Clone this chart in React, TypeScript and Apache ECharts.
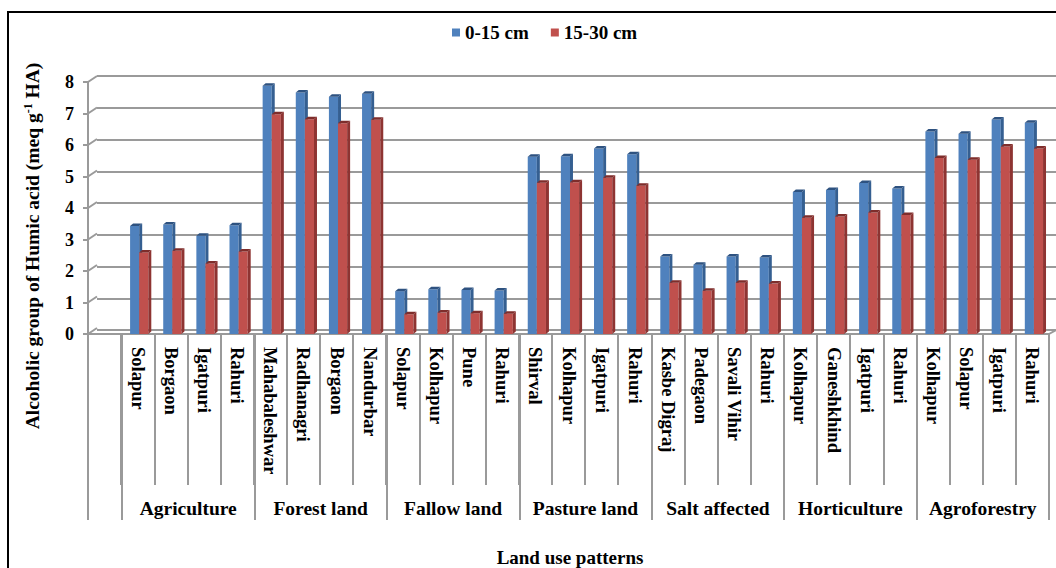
import React, { useEffect, useRef } from 'react';
import * as echarts from 'echarts';

const categories = ['', 'Solapur', 'Borgaon', 'Igatpuri', 'Rahuri', 'Mahabaleshwar', 'Radhanagri', 'Borgaon', 'Nandurbar', 'Solapur', 'Kolhapur', 'Pune', 'Rahuri', 'Shirval', 'Kolhapur', 'Igatpuri', 'Rahuri', 'Kasbe Digraj', 'Padegaon', 'Savali Vihir', 'Rahuri', 'Kolhapur', 'Ganeshkhind', 'Igatpuri', 'Rahuri', 'Kolhapur', 'Solapur', 'Igatpuri', 'Rahuri'];
const groups = ['Agriculture', 'Forest land', 'Fallow land', 'Pasture land', 'Salt affected', 'Horticulture', 'Agroforestry'];
const depth0to15 = [3.43, 3.48, 3.12, 3.45, 7.88, 7.67, 7.53, 7.63, 1.36, 1.42, 1.40, 1.38, 5.63, 5.64, 5.89, 5.71, 2.46, 2.20, 2.46, 2.43, 4.51, 4.57, 4.79, 4.62, 6.43, 6.36, 6.81, 6.71];
const depth15to30 = [2.59, 2.64, 2.24, 2.62, 6.98, 6.82, 6.69, 6.80, 0.63, 0.68, 0.66, 0.64, 4.80, 4.82, 4.96, 4.71, 1.63, 1.37, 1.63, 1.60, 3.69, 3.73, 3.86, 3.78, 5.59, 5.53, 5.95, 5.89];
const yTicks = [0, 1, 2, 3, 4, 5, 6, 7, 8];
const seriesNames = ['0-15 cm', '15-30 cm'];

export default function App() {
  const ref = useRef<HTMLDivElement>(null);
  useEffect(() => {
    const chart = echarts.init(ref.current!, null, { renderer: 'svg' });
    const font = "'Liberation Serif', 'Times New Roman', serif";
    const gray = '#9a9a9a';

    const bar3d = (o0: number, o1: number, front: string, side: string, top: string) => (params: any, api: any) => {
      const idx = api.value(0);
      const v = api.value(1);
      const base = api.coord([idx, 0]);
      const tp = api.coord([idx, v]);
      const bw = api.size([1, 0])[0];
      const x0 = base[0] + o0 * bw;
      const x1 = base[0] + o1 * bw;
      const d = 0.09 * bw;
      const dy = 2.5;
      return {
        type: 'group',
        children: [
          { type: 'rect', shape: { x: x0, y: tp[1], width: x1 - x0, height: base[1] - tp[1] }, style: { fill: front } },
          { type: 'polygon', shape: { points: [[x1, tp[1]], [x1 + d, tp[1] - dy], [x1 + d, base[1] - dy], [x1, base[1]]] }, style: { fill: side } },
          { type: 'polygon', shape: { points: [[x0, tp[1]], [x0 + d, tp[1] - dy], [x1 + d, tp[1] - dy], [x1, tp[1]]] }, style: { fill: top } },
        ],
      };
    };

    chart.setOption({
      animation: false,
      backgroundColor: '#ffffff',
      legend: {
        data: seriesNames,
        left: 447,
        top: 18,
        icon: 'rect',
        itemWidth: 8,
        itemHeight: 8,
        itemGap: 22,
        textStyle: { fontFamily: font, fontWeight: 'bold', fontSize: 19, color: '#000' },
      },
      grid: [
        { left: 88, right: 7, top: 82, bottom: 234 },
        { left: 122, right: 7, top: 82, bottom: 234 },
        { left: 97, right: 0, top: 76, bottom: 238 },
      ],
      xAxis: [
        {
          gridIndex: 0, type: 'category', data: categories, position: 'bottom',
          axisLine: { show: true, lineStyle: { color: gray, width: 2 } },
          axisTick: { show: true, interval: 0, length: 151, lineStyle: { color: gray, width: 2 } },
          axisLabel: { interval: 0, rotate: -90, margin: 13, fontSize: 18.5, fontWeight: 'bold', fontFamily: font, color: '#000' },
          splitLine: { show: false },
        },
        {
          gridIndex: 0, type: 'category', data: categories, position: 'bottom',
          axisLine: { show: false },
          axisTick: { show: true, interval: (i: number) => i === 0, length: 186, lineStyle: { color: gray, width: 2 } },
          axisLabel: { show: false },
          splitLine: { show: false },
        },
        {
          gridIndex: 1, type: 'category', data: groups, position: 'bottom',
          axisLine: { show: false },
          axisTick: { show: true, interval: 0, length: 186, lineStyle: { color: gray, width: 2 } },
          axisLabel: { interval: 0, margin: 164, fontSize: 19.5, fontWeight: 'bold', fontFamily: font, color: '#000' },
          splitLine: { show: false },
        },
        { gridIndex: 2, type: 'value', min: 0, max: 1, show: false },
      ],
      yAxis: [
        {
          gridIndex: 0, type: 'value', min: 0, max: 8, interval: 1, position: 'left',
          axisLine: { show: true, lineStyle: { color: gray, width: 2 } },
          axisTick: { show: true, length: 5, lineStyle: { color: gray, width: 2 } },
          axisLabel: { margin: 14, fontSize: 18, fontWeight: 'bold', fontFamily: font, color: '#000' },
          splitLine: { show: false },
        },
        { gridIndex: 1, type: 'value', min: 0, max: 8, show: false },
        {
          gridIndex: 2, type: 'value', min: 0, max: 8, interval: 1,
          axisLine: { show: false }, axisTick: { show: false }, axisLabel: { show: false },
          splitLine: { show: true, lineStyle: { color: gray, width: 2 } },
        },
      ],
      series: [
        {
          type: 'custom', name: 'connectors', xAxisIndex: 0, yAxisIndex: 0, silent: true, z: 1,
          data: yTicks.map((v) => [0, v]),
          renderItem: (params: any, api: any) => {
            const y = api.coord([0, api.value(1)])[1];
            const x = params.coordSys.x;
            const children: any[] = [
              { type: 'line', shape: { x1: x, y1: y, x2: x + 9, y2: y - 6 }, style: { stroke: gray, lineWidth: 2 } },
            ];
            if (api.value(1) === 0) {
              const xr = params.coordSys.x + params.coordSys.width;
              children.push({ type: 'line', shape: { x1: xr, y1: y, x2: xr + 7, y2: y - 4 }, style: { stroke: gray, lineWidth: 2 } });
            }
            return { type: 'group', children };
          },
        },
        {
          type: 'custom', name: seriesNames[0], xAxisIndex: 0, yAxisIndex: 0, z: 3,
          itemStyle: { color: '#4F81BD' },
          data: depth0to15.map((v, i) => [i + 1, v]),
          renderItem: bar3d(-0.23, 0.045, '#4F81BD', '#355F91', '#2E5280'),
        },
        {
          type: 'custom', name: seriesNames[1], xAxisIndex: 0, yAxisIndex: 0, z: 3,
          itemStyle: { color: '#C0504D' },
          data: depth15to30.map((v, i) => [i + 1, v]),
          renderItem: bar3d(0.045, 0.32, '#C0504D', '#8E3432', '#7E2D2B'),
        },
      ],
      graphic: [
        { type: 'rect', shape: { x: 8, y: 12, width: 1200, height: 700 }, style: { fill: 'none', stroke: '#000', lineWidth: 2 }, silent: true },
        {
          type: 'text', x: 32, y: 246, rotation: Math.PI / 2,
          style: {
            text: '{a|Alcoholic group of Humic acid (meq g}{s|-1}{a| HA)}',
            align: 'center', verticalAlign: 'middle',
            rich: {
              a: { fontSize: 19.5, fontWeight: 'bold', fontFamily: font, fill: '#000' },
              s: { fontSize: 12, fontWeight: 'bold', fontFamily: font, fill: '#000', verticalAlign: 'top' },
            },
          },
        },
        {
          type: 'text', x: 570, y: 557,
          style: { text: 'Land use patterns', fontSize: 19, fontWeight: 'bold', fontFamily: font, fill: '#000', align: 'center', verticalAlign: 'middle' },
        },
      ],
    });
    return () => chart.dispose();
  }, []);
  return <div ref={ref} style={{ position: 'fixed', left: 0, top: 0, width: 1056, height: 568, background: '#fff' }} />;
}
